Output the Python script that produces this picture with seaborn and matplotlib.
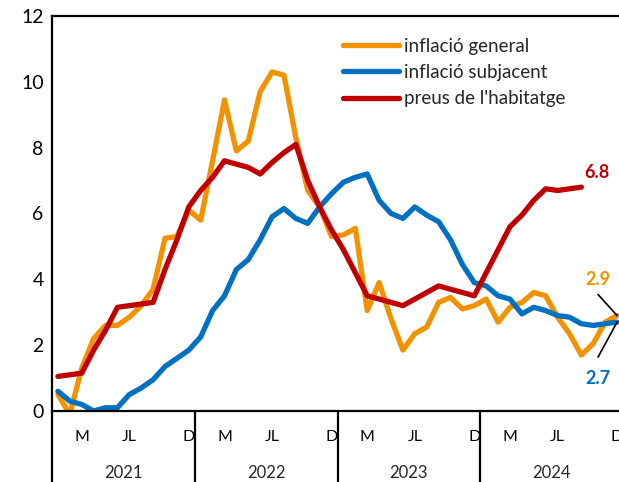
import numpy as np
import pandas as pd
import seaborn as sns
from matplotlib import pyplot as plt

# --- Data (monthly, Jan 2021 - Dec 2024) ---
years = ["2021", "2022", "2023", "2024"]
month_labels = ["M", "JL", "D"]
month_label_idx = [2, 6, 11]

general = [0.5, -0.1, 1.3, 2.2, 2.6, 2.6, 2.85, 3.2, 3.7, 5.25, 5.3, 6.1,
           5.8, 7.6, 9.45, 7.9, 8.2, 9.7, 10.3, 10.2, 8.3, 6.7, 6.2, 5.3,
           5.35, 5.55, 3.05, 3.9, 2.8, 1.85, 2.35, 2.55, 3.3, 3.45, 3.1, 3.2,
           3.4, 2.7, 3.15, 3.3, 3.6, 3.5, 2.85, 2.35, 1.7, 2.05, 2.7, 2.9]
core = [0.6, 0.3, 0.2, 0.0, 0.1, 0.1, 0.5, 0.7, 0.95, 1.35, 1.6, 1.85,
        2.25, 3.05, 3.5, 4.3, 4.6, 5.2, 5.9, 6.15, 5.85, 5.7, 6.2, 6.6,
        6.95, 7.1, 7.2, 6.4, 6.0, 5.85, 6.2, 5.95, 5.75, 5.2, 4.45, 3.9,
        3.8, 3.5, 3.4, 2.95, 3.15, 3.05, 2.9, 2.85, 2.65, 2.6, 2.65, 2.7]
housing = [1.05, 1.1, 1.15, 1.85, 2.45, 3.15, 3.2, 3.25, 3.3, 4.3, 5.2, 6.2,
           6.7, 7.1, 7.6, 7.5, 7.4, 7.2, 7.55, 7.85, 8.1, 7.0, 6.2, 5.5,
           4.9, 4.2, 3.5, 3.4, 3.3, 3.2, 3.4, 3.6, 3.8, 3.7, 3.6, 3.5,
           4.2, 4.9, 5.6, 5.95, 6.4, 6.75, 6.7, 6.75, 6.8, np.nan, np.nan, np.nan]

series_names = ["inflació general", "inflació subjacent", "preus de l'habitatge"]
colors = ["#F39200", "#0070C0", "#C00000"]

n = len(general)
df = pd.DataFrame({
    "mes": np.tile(np.arange(n), 3),
    "valor": general + core + housing,
    "serie": np.repeat(series_names, n),
})

sns.set_theme(style="white")
plt.rcParams["font.family"] = ["Lato", "DejaVu Sans"]

fig = plt.figure(figsize=(6.19, 4.82), dpi=100)
ax = fig.add_axes([52 / 619, 1 - 411 / 482, (623 - 52) / 619, 395 / 482])

sns.lineplot(data=df, x="mes", y="valor", hue="serie", palette=colors,
             linewidth=3.8, ax=ax, solid_capstyle="round", solid_joinstyle="round")

ax.set_xlim(-0.5, n - 0.5)
ax.set_ylim(0, 12)
ax.set_yticks(range(0, 13, 2))
ax.tick_params(axis="y", length=0, pad=6, labelsize=14, colors="black")

ticks = [12 * k + m for k in range(len(years)) for m in month_label_idx]
ax.set_xticks(ticks)
ax.set_xticklabels(month_labels * len(years))
ax.tick_params(axis="x", length=0, pad=14, labelsize=11.5, colors="black")
ax.set_xlabel("")
ax.set_ylabel("")

for side in ["left", "top", "bottom"]:
    ax.spines[side].set_color("black")
    ax.spines[side].set_linewidth(1.6)
ax.spines["right"].set_visible(False)

# year separators and labels below the axis
trans = ax.get_xaxis_transform()
for k, yr in enumerate(years):
    x0 = 12 * k - 0.5
    ax.plot([x0, x0], [0, -0.19], transform=trans, color="black", lw=1.6, clip_on=False)
    ax.text(x0 + 6, -0.157, yr, transform=trans, ha="center", va="center", fontsize=12)
ax.plot([n - 0.5, n - 0.5], [0, -0.19], transform=trans, color="black", lw=1.6, clip_on=False)

# legend
leg = ax.legend(loc="upper left", bbox_to_anchor=(343 / 619, 0.922), bbox_transform=fig.transFigure,
                frameon=False, fontsize=13.5, handlelength=3.0, handletextpad=0.25,
                labelspacing=0.5, borderpad=0, borderaxespad=0)
for line in leg.get_lines():
    line.set_linewidth(3.8)
    line.set_solid_capstyle("round")

# end-value annotations
last_h = max(i for i, v in enumerate(housing) if not np.isnan(v))
ax.annotate(f"{housing[last_h]:.1f}", xy=(last_h, housing[last_h]), xytext=(16, 15),
            textcoords="offset pixels", ha="center", va="center",
            color=colors[2], fontsize=13, fontweight="bold")

ax.annotate("", xy=(n - 1, general[-1]), xytext=(-19, 21), textcoords="offset pixels",
            arrowprops=dict(arrowstyle="-", color="black", lw=1.2, shrinkA=0, shrinkB=0))
ax.annotate(f"{general[-1]:.1f}", xy=(n - 1, general[-1]), xytext=(-19, 36),
            textcoords="offset pixels", ha="center", va="center",
            color=colors[0], fontsize=13, fontweight="bold")

ax.annotate("", xy=(n - 1, core[-1]), xytext=(-19, -35), textcoords="offset pixels",
            arrowprops=dict(arrowstyle="-", color="black", lw=1.2, shrinkA=0, shrinkB=0))
ax.annotate(f"{core[-1]:.1f}", xy=(n - 1, core[-1]), xytext=(-19, -56),
            textcoords="offset pixels", ha="center", va="center",
            color=colors[1], fontsize=13, fontweight="bold")

fig.savefig("out.png", dpi=100)
